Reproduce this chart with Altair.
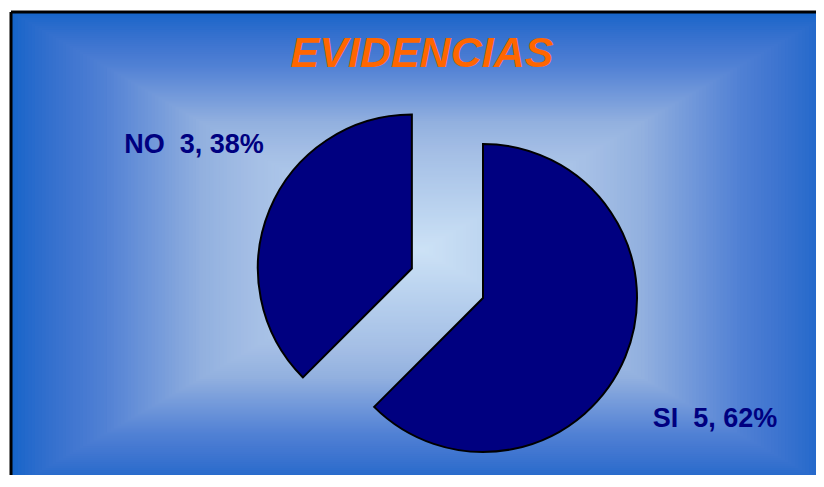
import altair as alt
import pandas as pd

# ---- data ----
titulo = "EVIDENCIAS"
categorias = ["SI", "NO"]
valores = [5, 3]
porcentajes = ["62%", "38%"]
separado = [0, 1]          # NO slice is pulled out of the pie
orden = [0, 1]

# ---- layout / style ----
W, H = 808, 467
PIE_CX, PIE_CY = 475, 290
R = 154
EXPLODE = 77
LABEL_R = 256
LABEL_SHIFT = 0.105        # radians, label angle shift
NAVY = "#000080"
NBSP = "\u00a0"

# background rectangular gradient (decoration)
grad_t = [i / 120 for i in range(120, 0, -1)]
grad_stops = [0, 0.42, 0.54, 0.78, 1.0]
grad_colors = ["#cde2f6", "#a4bee5", "#92b0df", "#5080d4", "#1565c9"]

xs = alt.Scale(domain=[-1, 1], range=[3, 825])
ys = alt.Scale(domain=[-1, 1], range=[4, 480])

bg = alt.Chart(pd.DataFrame({"t": grad_t})).transform_calculate(
    nt="-datum.t"
).mark_rect(strokeWidth=0, clip=True).encode(
    x=alt.X("nt:Q", scale=xs, axis=None),
    x2="t:Q",
    y=alt.Y("nt:Q", scale=ys, axis=None),
    y2="t:Q",
    color=alt.Color("t:Q", scale=alt.Scale(domain=grad_stops, range=grad_colors), legend=None),
)

# frame edges (left and top are the only ones inside the picture)
edges = pd.DataFrame({"x0": [-1, -1], "x1": [-1, 1], "y0": [-1, -1], "y1": [1, -1]})
border = alt.Chart(edges).mark_rule(color="black", strokeWidth=3, clip=True).encode(
    x=alt.X("x0:Q", scale=xs, axis=None),
    x2="x1:Q",
    y=alt.Y("y0:Q", scale=ys, axis=None),
    y2="y1:Q",
)

df = pd.DataFrame({
    "cat": categorias,
    "valor": valores,
    "pct": porcentajes,
    "sep": separado,
    "orden": orden,
})

base = (
    alt.Chart(df)
    .transform_window(fin="sum(valor)", sort=[alt.SortField("orden")])
    .transform_joinaggregate(total="sum(valor)")
    .transform_calculate(ini="datum.fin - datum.valor")
    .transform_calculate(
        a0="2*PI*datum.ini/datum.total",
        a1="2*PI*datum.fin/datum.total",
        am="PI*(datum.ini+datum.fin)/datum.total",
    )
    .transform_calculate(
        cx=f"{PIE_CX} + datum.sep*{EXPLODE}*sin(datum.am)",
        cy=f"{PIE_CY} - datum.sep*{EXPLODE}*cos(datum.am)",
    )
    .transform_calculate(
        lx=f"datum.cx + {LABEL_R}*sin(datum.am + {LABEL_SHIFT})",
        ly=f"datum.cy - {LABEL_R}*cos(datum.am + {LABEL_SHIFT})",
        etiqueta=f"datum.cat + '{NBSP}{NBSP}' + datum.valor + ',{NBSP}' + datum.pct",
    )
)

arcs = base.mark_arc(radius=R, fill=NAVY, stroke="black", strokeWidth=2).encode(
    theta=alt.Theta("a0:Q", scale=None),
    theta2="a1:Q",
    x=alt.X("cx:Q", scale=None, axis=None),
    y=alt.Y("cy:Q", scale=None, axis=None),
)

labels = base.mark_text(
    font="Liberation Sans", fontWeight="bold", fontSize=27, color=NAVY,
    align="center", baseline="middle", dx=7, dy=-1,
).encode(
    x=alt.X("lx:Q", scale=None, axis=None),
    y=alt.Y("ly:Q", scale=None, axis=None),
    text="etiqueta:N",
)

title_text = alt.Chart(pd.DataFrame({"t": [titulo]})).mark_text(
    font="Liberation Sans", fontWeight="bold", fontStyle="italic", fontSize=43,
    color="#ff6600", align="center", baseline="alphabetic",
).encode(
    x=alt.value(414),
    y=alt.value(59),
    text="t:N",
)

chart = alt.layer(bg, border, arcs, labels, title_text).resolve_scale(
    x="independent", y="independent"
).properties(
    width=W, height=H, padding=0, autosize="none", background="white"
).configure_view(strokeWidth=0)

chart.save("out.html", embed_options={"renderer": "svg", "actions": False})
